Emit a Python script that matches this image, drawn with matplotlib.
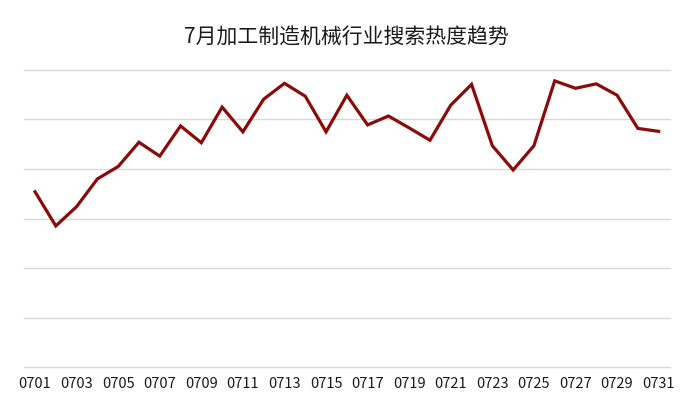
import matplotlib
matplotlib.use("Agg")
import matplotlib.pyplot as plt

plt.rcParams['font.family'] = ['Noto Sans CJK SC', 'DejaVu Sans']

# 7月每日搜索热度(相对值)
days = [f"07{d:02d}" for d in range(1, 32)]
heat = [354, 285, 324, 380, 405, 454, 426, 487, 453, 525,
        475, 541, 573, 547, 475, 549, 489, 507, 483, 458,
        529, 571, 447, 398, 447, 578, 563, 572, 549, 482, 476]
grid_levels = [0, 100, 200, 300, 400, 500, 600]

fig = plt.figure(figsize=(6.92, 4.19), dpi=100)
ax = fig.add_axes([0.0347, 0.124, 0.933, 0.709])

x = list(range(len(days)))
ax.plot(x, heat, color='#8B0A0A', linewidth=2.3, solid_joinstyle='miter', zorder=3)

ax.set_ylim(0, 600)
ax.set_xlim(-0.53, len(days) - 1 + 0.53)
ax.set_yticks([])
for lv in grid_levels:
    ax.axhline(lv, color='#D9D9D9', linewidth=1.0, clip_on=False, zorder=1)

ax.set_xticks(x[::2])
ax.set_xticklabels(days[::2], fontsize=10.5, color='#1a1a1a')
ax.tick_params(axis='x', length=0, pad=7)

for s in ax.spines.values():
    s.set_visible(False)

fig.text(0.5, 1 - 38 / 419, '7月加工制造机械行业搜索热度趋势',
         ha='center', va='center', fontsize=15, color='#1a1a1a')

fig.savefig('out.png', dpi=100)
